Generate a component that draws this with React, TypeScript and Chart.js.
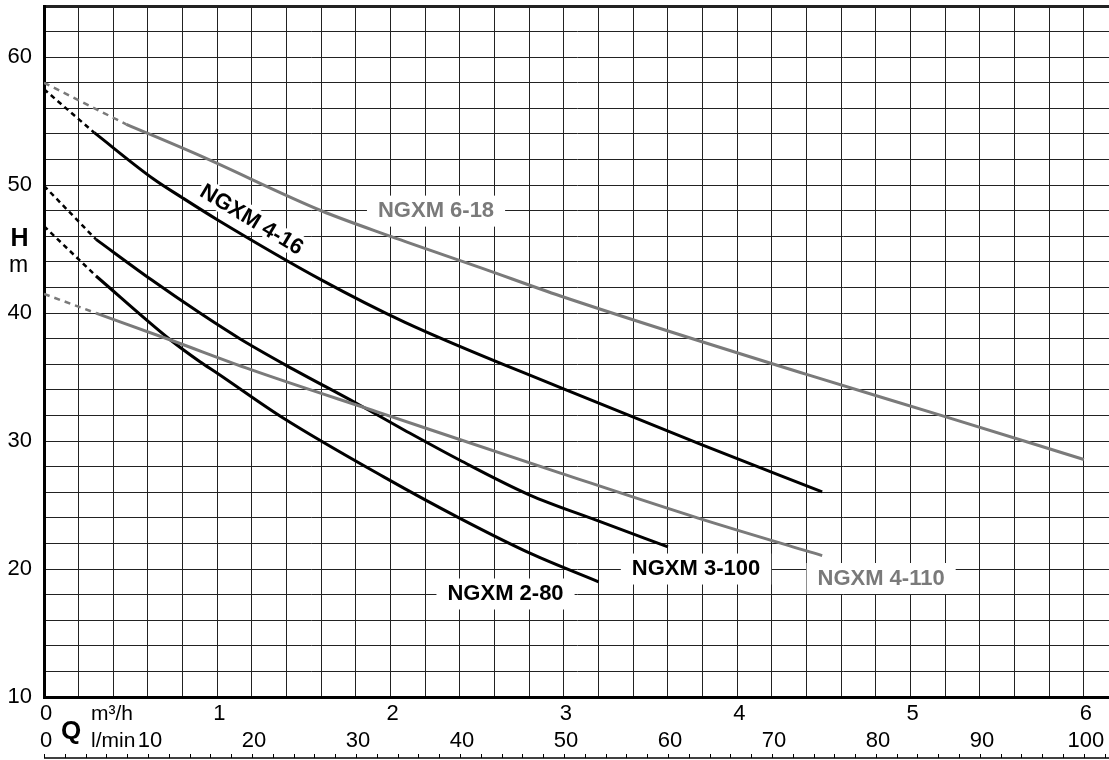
import React, { useEffect, useRef } from 'react';
import { Chart, registerables } from 'chart.js';

Chart.register(...registerables);

// ---- data (Q in m3/h, H in m) ----
const Q_618 = [0.475, 0.9, 1.6, 2.0, 2.53, 2.98, 4.4, 5.19, 6.0];
const H_618 = [54.75, 52.3, 48.0, 46.0, 43.5, 41.34, 35.21, 31.95, 28.56];
const H0_618 = 58.0;

const Q_416 = [0.29, 0.63, 0.8, 1.0, 1.6, 2.08, 2.98, 3.79, 4.49];
const H_416 = [54.1, 50.5, 49.0, 47.3, 42.6, 39.3, 34.17, 29.74, 26.03];
const H0_416 = 57.5;

const Q_3100 = [0.3, 0.62, 0.9, 1.13, 1.4, 1.81, 2.08, 2.4, 2.8, 3.19, 3.6];
const H_3100 = [45.76, 42.6, 40.0, 38.0, 35.9, 32.9, 30.85, 28.5, 25.8, 23.8, 21.73];
const H0_3100 = 49.95;

const Q_280 = [0.3, 0.73, 0.9, 1.0, 1.38, 1.96, 2.4, 2.81, 3.2];
const H_280 = [42.9, 37.9, 36.2, 35.3, 31.8, 27.2, 23.96, 21.2, 19.0];
const H0_280 = 46.8;

const Q_4110 = [0.3, 0.73, 1.19, 1.94, 2.98, 3.77, 4.49];
const H_4110 = [40.0, 37.9, 35.6, 32.2, 27.5, 24.0, 21.05];
const H0_4110 = 41.5;

// ---- tick labels ----
const Y_LABELS = [10, 20, 30, 40, 50, 60];
const M3H_LABELS = [0, 1, 2, 3, 4, 5, 6];
const LMIN_LABELS = [0, 10, 20, 30, 40, 50, 60, 70, 80, 90, 100];
const LMIN_PER_M3H = 1 / 0.06;

// ---- curve labels (anchor in data units) ----
const LABEL_TEXT = ['NGXM 6-18', 'NGXM 4-16', 'NGXM 3-100', 'NGXM 2-80', 'NGXM 4-110'];
const LABEL_Q = [2.262, 1.197, 3.762, 2.663, 4.83];
const LABEL_H = [47.97, 47.27, 20.0, 18.05, 19.26];

const BLACK = '#000000';
const GREY = '#7a7a7a';
const LABEL_COLORS = [GREY, BLACK, BLACK, BLACK, GREY];
const LABEL_ANGLE = [0, 31, 0, 0, 0];
const LABEL_BOX = [true, false, true, true, true];

const FONT = '"Liberation Sans", Arial, Helvetica, sans-serif';

function zip(q: number[], h: number[]) {
  return q.map((v, i) => ({ x: v, y: h[i] }));
}

function solid(q: number[], h: number[], color: string) {
  return {
    data: zip(q, h),
    borderColor: color,
    borderWidth: 3,
    pointRadius: 0,
    cubicInterpolationMode: 'monotone' as const,
    borderCapStyle: 'butt' as const,
    fill: false,
  };
}

function dashed(h0: number, q: number[], h: number[], color: string, dash: number[]) {
  return {
    data: [{ x: 0, y: h0 }, { x: q[0], y: h[0] }],
    borderColor: color,
    borderWidth: 2.5,
    borderDash: dash,
    pointRadius: 0,
    tension: 0,
    fill: false,
  };
}

const textPlugin = {
  id: 'textPlugin',
  beforeDatasetsDraw(chart: any) {
    const { ctx, scales } = chart;
    const xs = scales.x;
    const ys = scales.y;
    LABEL_TEXT.forEach((t, i) => {
      const px = xs.getPixelForValue(LABEL_Q[i]);
      const py = ys.getPixelForValue(LABEL_H[i]);
      ctx.save();
      ctx.font = 'bold 22px ' + FONT;
      ctx.textAlign = 'center';
      ctx.textBaseline = 'middle';
      const w = ctx.measureText(t).width;
      ctx.translate(px, py);
      ctx.rotate((LABEL_ANGLE[i] * Math.PI) / 180);
      if (LABEL_BOX[i]) {
        ctx.fillStyle = '#ffffff';
        ctx.fillRect(-w / 2 - 11, -15.5, w + 22, 31);
      } else {
        ctx.strokeStyle = '#ffffff';
        ctx.lineWidth = 8;
        ctx.lineJoin = 'round';
        ctx.strokeText(t, 0, 0);
      }
      ctx.fillStyle = LABEL_COLORS[i];
      ctx.fillText(t, 0, 0);
      ctx.restore();
    });
  },
  afterDraw(chart: any) {
    const { ctx, scales } = chart;
    const xs = scales.x;
    const ys = scales.y;
    ctx.save();
    ctx.fillStyle = '#000';
    // y labels
    ctx.font = '22px ' + FONT;
    ctx.textAlign = 'right';
    ctx.textBaseline = 'middle';
    Y_LABELS.forEach((v) => {
      ctx.fillText(String(v), 32, ys.getPixelForValue(v));
    });
    // H / m
    ctx.textAlign = 'center';
    ctx.font = 'bold 25px ' + FONT;
    ctx.fillText('H', 19.5, 239);
    ctx.font = '23px ' + FONT;
    ctx.fillText('m', 18.5, 266);
    // x labels m3/h
    ctx.font = '22px ' + FONT;
    M3H_LABELS.forEach((v) => {
      ctx.fillText(String(v), xs.getPixelForValue(v) + 2, 714);
    });
    LMIN_LABELS.forEach((v) => {
      ctx.fillText(String(v), xs.getPixelForValue(v / LMIN_PER_M3H) + 2, 741);
    });
    // Q and units
    ctx.font = 'bold 26px ' + FONT;
    ctx.fillText('Q', 71, 732);
    ctx.textAlign = 'left';
    ctx.font = '21px ' + FONT;
    ctx.fillText('m³/h', 91, 714.5);
    ctx.fillText('l/min', 91, 741);
    // l/min ruler
    const yb = 758;
    ctx.strokeStyle = '#000';
    ctx.lineWidth = 1.5;
    ctx.beginPath();
    ctx.moveTo(xs.left, yb);
    ctx.lineTo(chart.width, yb);
    ctx.stroke();
    ctx.lineWidth = 1;
    const maxL = xs.max * LMIN_PER_M3H;
    for (let l = 0; l <= maxL; l += 2) {
      const px = Math.round(xs.getPixelForValue(l / LMIN_PER_M3H)) + 0.5;
      ctx.beginPath();
      ctx.moveTo(px, yb);
      ctx.lineTo(px, yb - 4);
      ctx.stroke();
    }
    ctx.restore();
  },
};

export default function App() {
  const ref = useRef<HTMLCanvasElement>(null);
  useEffect(() => {
    if (!ref.current) return;
    const chart = new Chart(ref.current, {
      type: 'line',
      data: {
        datasets: [
          dashed(H0_618, Q_618, H_618, GREY, [6, 5]),
          dashed(H0_416, Q_416, H_416, BLACK, [5, 4]),
          dashed(H0_3100, Q_3100, H_3100, BLACK, [5, 4]),
          dashed(H0_280, Q_280, H_280, BLACK, [5, 4]),
          dashed(H0_4110, Q_4110, H_4110, GREY, [6, 5]),
          solid(Q_618, H_618, GREY),
          solid(Q_4110, H_4110, GREY),
          solid(Q_416, H_416, BLACK),
          solid(Q_3100, H_3100, BLACK),
          solid(Q_280, H_280, BLACK),
        ] as any,
      },
      options: {
        animation: false,
        responsive: true,
        maintainAspectRatio: false,
        layout: { padding: { left: 44, top: 6, right: 0, bottom: 63 } },
        plugins: { legend: { display: false }, tooltip: { enabled: false } },
        events: [],
        scales: {
          x: {
            type: 'linear',
            min: 0,
            max: 6.145,
            ticks: { display: false, stepSize: 0.2, includeBounds: false },
            grid: {
              color: (c: any) => (c.tick && c.tick.value > 6.01 ? 'rgba(0,0,0,0)' : '#222'),
              lineWidth: 1,
              drawTicks: false,
            },
            border: { display: true, width: 3, color: '#000' },
          },
          y: {
            type: 'linear',
            min: 10,
            max: 64,
            ticks: { display: false, stepSize: 2, includeBounds: false },
            grid: {
              color: '#222',
              lineWidth: (c: any) => (c.tick && c.tick.value === 64 ? 3 : 1),
              drawTicks: false,
            },
            border: { display: true, width: 3, color: '#000' },
          },
        },
      },
      plugins: [textPlugin],
    });
    return () => chart.destroy();
  }, []);
  return (
    <div style={{ position: 'fixed', left: 0, top: 0, width: 1109, height: 760, background: '#fff' }}>
      <canvas ref={ref} />
    </div>
  );
}
